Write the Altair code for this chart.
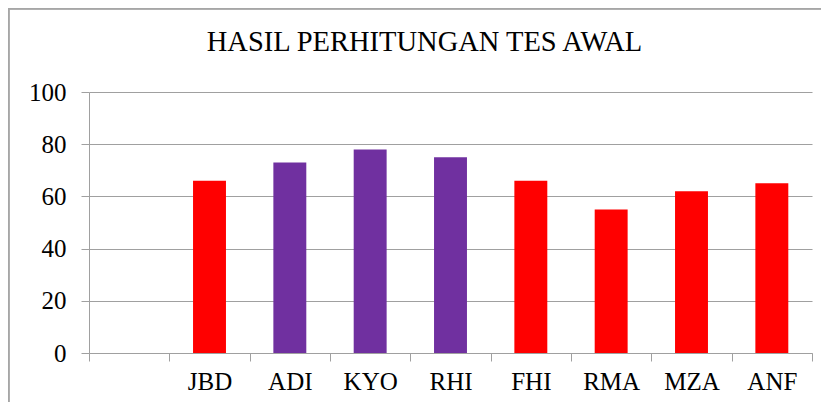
import altair as alt
import pandas as pd

# Data
categories = ["", "JBD", "ADI", "KYO", "RHI", "FHI", "RMA", "MZA", "ANF"]
names = ["JBD", "ADI", "KYO", "RHI", "FHI", "RMA", "MZA", "ANF"]
values = [66, 73, 78, 75, 66, 55, 62, 65]
groups = ["Kelompok 1", "Kelompok 2", "Kelompok 2", "Kelompok 2",
          "Kelompok 1", "Kelompok 1", "Kelompok 1", "Kelompok 1"]
y_ticks = [0, 20, 40, 60, 80, 100]

df = pd.DataFrame({"nama": names, "nilai": values, "kelompok": groups})

FONT = "Liberation Serif"
GRID = "#A0A0A0"
W, H = 723, 261

bars = alt.Chart(df).mark_bar(width=alt.RelativeBandSize(0.41)).encode(
    x=alt.X("nama:N", sort=categories,
            scale=alt.Scale(domain=categories, paddingInner=0, paddingOuter=0),
            axis=alt.Axis(title=None, labelAngle=0, tickBand="extent",
                          tickSize=8, labelPadding=8, labelFontSize=25,
                          labelFont=FONT, labelColor="black",
                          domainColor=GRID, tickColor=GRID, grid=False)),
    y=alt.Y("nilai:Q",
            scale=alt.Scale(domain=[0, 100], nice=False),
            axis=alt.Axis(title=None, values=y_ticks, tickSize=8, labelPadding=15,
                          labelFontSize=25, labelFont=FONT, labelColor="black",
                          domainColor=GRID, tickColor=GRID, gridColor=GRID,
                          gridWidth=1.2)),
    color=alt.Color("kelompok:N",
                    scale=alt.Scale(domain=["Kelompok 1", "Kelompok 2"],
                                    range=["#FF0000", "#7030A0"]),
                    legend=None),
)

border_left = alt.Chart(df).mark_rule(color="#A6A6A6", strokeWidth=1.5).encode(
    x=alt.value(-80.5), y=alt.value(-83.5), y2=alt.value(H + 60)
)
border_top = alt.Chart(df).mark_rule(color="#A6A6A6", strokeWidth=1.5).encode(
    x=alt.value(-81), x2=alt.value(W + 20), y=alt.value(-83.5)
)

chart = alt.layer(bars, border_left, border_top).properties(
    width=W, height=H,
    autosize=alt.AutoSizeParams(type="none"),
    padding={"left": 81, "top": 84, "right": 9, "bottom": 49},
    title=alt.TitleParams("HASIL PERHITUNGAN TES AWAL", font=FONT, fontSize=28.5,
                          fontWeight="normal", color="black", anchor="middle",
                          frame="group", dx=-26, dy=72, baseline="alphabetic",
                          offset=0),
).configure_view(stroke=None)

chart.save("out.html", embed_options={"renderer": "svg", "actions": False})
